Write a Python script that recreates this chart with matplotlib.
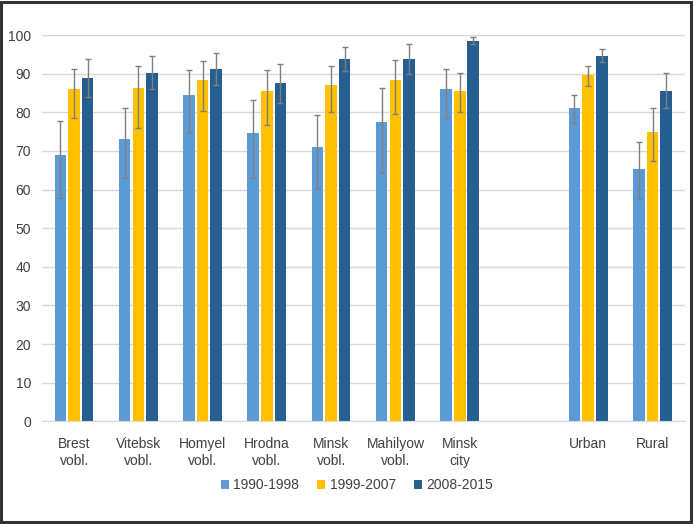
import numpy as np
import matplotlib
matplotlib.use("Agg")
from matplotlib import pyplot as plt
from matplotlib.patches import Rectangle

plt.rcParams["font.family"] = ["Liberation Sans", "DejaVu Sans"]

categories = ["Brest\nvobl.", "Vitebsk\nvobl.", "Homyel\nvobl.", "Hrodna\nvobl.",
              "Minsk\nvobl.", "Mahilyow\nvobl.", "Minsk\ncity", "", "Urban", "Rural"]
series = ["1990-1998", "1999-2007", "2008-2015"]

# bar heights (None for the empty spacer slot)
v1990 = [69.0, 73.1, 84.5, 74.6, 70.9, 77.5, 86.1, None, 81.2, 65.3]
v1999 = [86.1, 86.4, 88.3, 85.6, 87.2, 88.3, 85.6, None, 89.6, 74.9]
v2008 = [88.9, 90.3, 91.3, 87.5, 93.8, 93.8, 98.6, None, 94.7, 85.6]

# error bar bounds (low, high)
lo1990 = [57.8, 63.0, 74.6, 63.0, 60.2, 64.2, 78.5, None, 77.2, 57.5]
hi1990 = [77.8, 81.0, 90.9, 83.2, 79.3, 86.4, 91.1, None, 84.5, 72.3]
lo1999 = [78.5, 76.0, 80.4, 76.8, 80.0, 79.5, 80.0, None, 86.9, 67.5]
hi1999 = [91.1, 92.0, 93.4, 91.0, 92.0, 93.5, 90.3, None, 91.9, 81.0]
lo2008 = [84.0, 86.1, 87.2, 82.4, 90.7, 90.0, 97.6, None, 93.0, 81.1]
hi2008 = [93.8, 94.5, 95.4, 92.6, 96.9, 97.6, 99.6, None, 96.4, 90.1]

colors = ["#5B9BD5", "#FFC000", "#255E91"]

fig = plt.figure(figsize=(6.93, 5.24), dpi=100)
ax = fig.add_axes([0.0606, 0.196, 0.9274, 0.737])

x = np.arange(len(categories))
valid = [i for i in range(len(categories)) if v1990[i] is not None]
offsets = [-0.215, 0.0, 0.21]
width = 0.18

data = [(v1990, lo1990, hi1990), (v1999, lo1999, hi1999), (v2008, lo2008, hi2008)]
for k, (vals, lo, hi) in enumerate(data):
    xs = x[valid] + offsets[k]
    h = np.array([vals[i] for i in valid])
    l = np.array([lo[i] for i in valid])
    u = np.array([hi[i] for i in valid])
    ax.bar(xs, h, width=width, color=colors[k], label=series[k], zorder=2)
    ax.errorbar(xs, h, yerr=[h - l, u - h], fmt="none", ecolor="#7F7F7F",
                elinewidth=1, capsize=2.2, capthick=1, zorder=3)

ax.set_xlim(-0.5, len(categories) - 0.5)
ax.set_ylim(0, 100)
ax.set_yticks(range(0, 101, 10))
ax.set_xticks(x[valid])
ax.set_xticklabels([categories[i] for i in valid], linespacing=1.35)
ax.tick_params(axis="both", length=0, labelsize=10, colors="#404040")
ax.tick_params(axis="x", pad=11)
ax.tick_params(axis="y", pad=8)
ax.grid(axis="y", color="#D9D9D9", linewidth=1, zorder=0)
for s in ["top", "right", "left"]:
    ax.spines[s].set_visible(False)
ax.spines["bottom"].set_color("#D9D9D9")

ax.legend(loc="upper center", bbox_to_anchor=(0.49, -0.115), ncol=3, frameon=False,
          fontsize=10, handlelength=0.6, handleheight=0.6, handletextpad=0.3,
          columnspacing=1.3, labelcolor="#404040")

fig.patches.append(Rectangle((0.002, 0.003), 0.995, 0.994, transform=fig.transFigure,
                             fill=False, edgecolor="#333333", linewidth=2.2))

plt.savefig("out.png", dpi=100)
